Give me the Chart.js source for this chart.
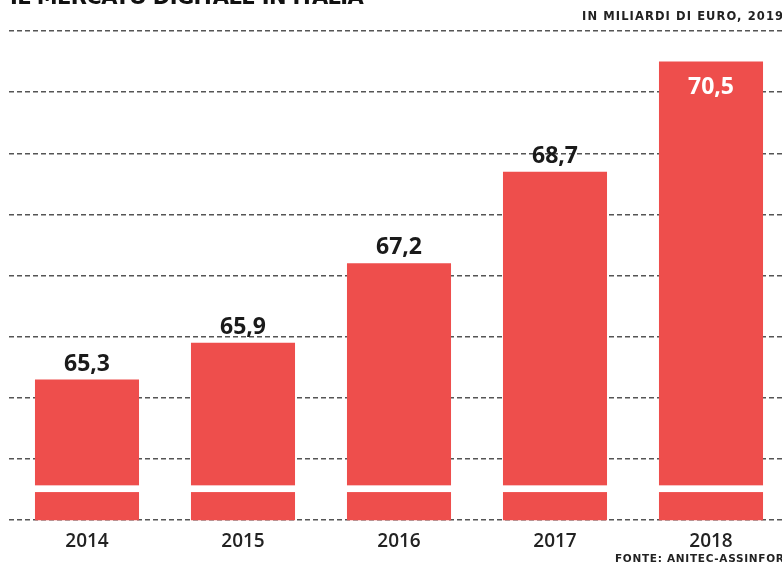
<!DOCTYPE html>
<html lang="it">
<head>
<meta charset="UTF-8">
<title>Il mercato digitale in Italia</title>
<script src="https://cdn.jsdelivr.net/npm/chart.js"></script>
<style>
    html, body { margin: 0; padding: 0; background: #fff; overflow: hidden; }
    .wrap { position: relative; width: 782px; height: 563px; overflow: hidden; }
    .chart-box { position: absolute; left: 0; top: 0; width: 800px; height: 563px; }
    .titolo { position: absolute; left: 10px; top: -15px; font-family: 'DejaVu Sans', sans-serif; font-weight: bold; font-size: 21px; color: #111; white-space: nowrap; letter-spacing: -0.6px; }
    .sottotitolo { position: absolute; left: 582px; top: 9px; font-family: 'DejaVu Sans', sans-serif; font-weight: bold; font-size: 11.5px; color: #222; white-space: nowrap; letter-spacing: 1.1px; }
    .fonte { position: absolute; left: 615px; top: 552px; font-family: 'DejaVu Sans', sans-serif; font-weight: bold; font-size: 10.5px; color: #222; white-space: nowrap; letter-spacing: 0.7px; }
</style>
</head>
<body>
<div class="wrap">
    <div class="chart-box"><canvas id="grafico"></canvas></div>
    <div class="titolo">IL MERCATO DIGITALE IN ITALIA</div>
    <div class="sottotitolo">IN MILIARDI DI EURO, 2019</div>
    <div class="fonte">FONTE: ANITEC-ASSINFORM</div>
</div>

<script>
    // dati
    const anni = ['2014', '2015', '2016', '2017', '2018'];
    const valori = [65.3, 65.9, 67.2, 68.7, 70.5];
    const etichette = ['65,3', '65,9', '67,2', '68,7', '70,5'];

    // asse y spezzato: parte da 63
    const yMin = 63;
    const yMax = 71;
    const rottura = [63.46, 63.57];

    const rosso = '#ee4e4c';

    // plugin per le etichette sopra le barre e la striscia bianca
    const pluginBarre = {
        id: 'pluginBarre',
        afterDatasetsDraw(chart) {
            const ctx = chart.ctx;
            const meta = chart.getDatasetMeta(0);
            const y = chart.scales.y;
            const yA = y.getPixelForValue(rottura[1]);
            const yB = y.getPixelForValue(rottura[0]);

            ctx.save();
            meta.data.forEach((bar, i) => {
                // striscia bianca (interruzione)
                ctx.fillStyle = '#fff';
                ctx.fillRect(bar.x - bar.width / 2 - 1, yA, bar.width + 2, yB - yA);

                // etichetta
                ctx.font = 'bold 23px "Open Sans", sans-serif';
                ctx.textAlign = 'center';
                const dentro = bar.y - 32 < chart.chartArea.top;
                if (dentro) {
                    ctx.fillStyle = '#fff';
                    ctx.textBaseline = 'middle';
                    ctx.fillText(etichette[i], bar.x, bar.y + 26);
                } else {
                    ctx.fillStyle = '#1a1a1a';
                    ctx.textBaseline = 'alphabetic';
                    ctx.fillText(etichette[i], bar.x, bar.y - 9);
                }
            });
            ctx.restore();
        }
    };

    new Chart(document.getElementById('grafico'), {
        type: 'bar',
        data: {
            labels: anni,
            datasets: [{
                data: valori,
                backgroundColor: rosso,
                borderWidth: 0,
                barPercentage: 0.667,
                categoryPercentage: 1
            }]
        },
        options: {
            responsive: true,
            maintainAspectRatio: false,
            animation: false,
            layout: {
                padding: { top: 31, left: 9, right: 11, bottom: 8 }
            },
            scales: {
                x: {
                    grid: { display: false },
                    border: { display: false },
                    ticks: {
                        color: '#222',
                        padding: 2,
                        font: { family: '"Open Sans", sans-serif', size: 19, weight: '600' }
                    }
                },
                y: {
                    min: yMin,
                    max: yMax,
                    ticks: { display: false, stepSize: 1 },
                    grid: {
                        color: '#555',
                        lineWidth: 1.5,
                        drawTicks: false
                    },
                    border: { display: false, dash: [5, 3] }
                }
            },
            plugins: {
                legend: { display: false },
                tooltip: { enabled: false }
            }
        },
        plugins: [pluginBarre]
    });
</script>
</body>
</html>
